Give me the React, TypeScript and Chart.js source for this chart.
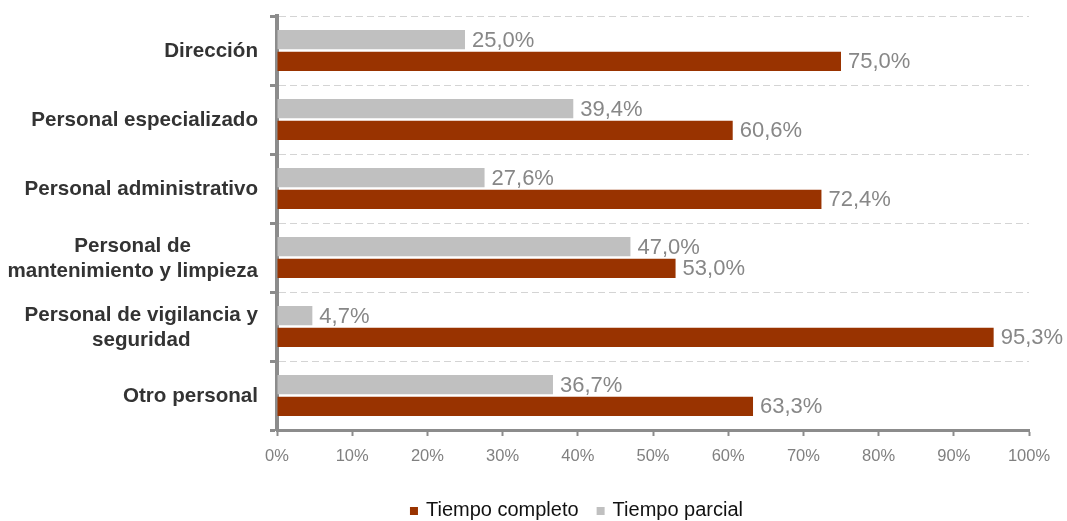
import React, { useEffect, useRef } from 'react';
import { Chart, registerables } from 'chart.js';

Chart.register(...registerables);

const FONT = "'Liberation Sans', Arial, Helvetica, sans-serif";

const categories: string[][] = [
  ['Dirección'],
  ['Personal especializado'],
  ['Personal administrativo'],
  ['Personal de', 'mantenimiento y limpieza'],
  ['Personal de vigilancia y', 'seguridad'],
  ['Otro personal'],
];
const tiempoParcial = [25.0, 39.4, 27.6, 47.0, 4.7, 36.7];
const tiempoCompleto = [75.0, 60.6, 72.4, 53.0, 95.3, 63.3];
const seriesNames = { completo: 'Tiempo completo', parcial: 'Tiempo parcial' };
const legendOrder = [1, 0]; // dataset indices: completo first, then parcial

const COLOR_COMPLETO = '#993300';
const COLOR_PARCIAL = '#c0c0c0';
const AXIS_GRAY = '#8c8c8c';

const fmt = (v: number) => v.toFixed(1).replace('.', ',') + '%';

const yLabelsPlugin = {
  id: 'yLabels',
  afterDraw(chart: any) {
    const ctx = chart.ctx;
    const yScale = chart.scales.y;
    const right = chart.chartArea.left - 19;
    const lineH = 25;
    ctx.save();
    ctx.font = `bold 20.6px ${FONT}`;
    ctx.fillStyle = '#333333';
    ctx.textAlign = 'center';
    ctx.textBaseline = 'middle';
    categories.forEach((lines, i) => {
      const cy = yScale.getPixelForValue(i) + 1;
      const w = Math.max(...lines.map((l) => ctx.measureText(l).width));
      const cx = right - w / 2;
      lines.forEach((l, j) => {
        ctx.fillText(l, cx, cy + (j - (lines.length - 1) / 2) * lineH);
      });
    });
    ctx.restore();
  },
};

const dataLabelsPlugin = {
  id: 'dataLabels',
  afterDatasetsDraw(chart: any) {
    const ctx = chart.ctx;
    ctx.save();
    ctx.font = `22px ${FONT}`;
    ctx.fillStyle = '#878787';
    ctx.textAlign = 'left';
    ctx.textBaseline = 'middle';
    chart.data.datasets.forEach((ds: any, di: number) => {
      const meta = chart.getDatasetMeta(di);
      meta.data.forEach((bar: any, i: number) => {
        ctx.fillText(fmt(ds.data[i]), bar.x + 7, bar.y + 1);
      });
    });
    ctx.restore();
  },
};

const legendPlugin = {
  id: 'customLegend',
  afterDraw(chart: any) {
    const ctx = chart.ctx;
    ctx.save();
    ctx.font = `20px ${FONT}`;
    ctx.textBaseline = 'middle';
    ctx.textAlign = 'left';
    const box = 8;
    const gapBox = 8;
    const gapItem = 18;
    const items = legendOrder.map((di) => chart.data.datasets[di]);
    const widths = items.map((ds: any) => box + gapBox + ctx.measureText(ds.label).width);
    const total = widths.reduce((a: number, b: number) => a + b, 0) + gapItem * (items.length - 1);
    let x = 576.5 - total / 2;
    const cy = 510;
    items.forEach((ds: any, k: number) => {
      ctx.fillStyle = ds.backgroundColor;
      ctx.fillRect(x, cy - box / 2 + 1, box, box);
      ctx.fillStyle = '#111111';
      ctx.fillText(ds.label, x + box + gapBox, cy);
      x += widths[k] + gapItem;
    });
    ctx.restore();
  },
};

export default function App() {
  const canvasRef = useRef<HTMLCanvasElement | null>(null);

  useEffect(() => {
    if (!canvasRef.current) return;
    Chart.defaults.font.family = FONT;
    const chart = new Chart(canvasRef.current, {
      type: 'bar',
      data: {
        labels: categories,
        datasets: [
          {
            label: seriesNames.parcial,
            data: tiempoParcial,
            backgroundColor: COLOR_PARCIAL,
            categoryPercentage: 0.63,
            barPercentage: 0.88,
          },
          {
            label: seriesNames.completo,
            data: tiempoCompleto,
            backgroundColor: COLOR_COMPLETO,
            categoryPercentage: 0.63,
            barPercentage: 0.88,
          },
        ],
      },
      options: {
        indexAxis: 'y',
        animation: false,
        responsive: true,
        maintainAspectRatio: false,
        layout: { padding: { left: 0, right: 38, top: 16, bottom: 51 } },
        plugins: {
          legend: { display: false },
          tooltip: { enabled: false },
        },
        scales: {
          x: {
            min: 0,
            max: 100,
            ticks: {
              stepSize: 10,
              callback: (v: any) => `${v}%`,
              color: '#808080',
              font: { size: 16.5, family: FONT },
              padding: 11,
            },
            grid: {
              display: true,
              drawOnChartArea: false,
              drawTicks: true,
              tickLength: 6,
              tickColor: AXIS_GRAY,
              tickWidth: 2,
            },
            border: { display: true, color: AXIS_GRAY, width: 3 },
            afterFit: (scale: any) => {
              scale.height = 40;
            },
          },
          y: {
            ticks: { display: false },
            grid: {
              display: true,
              offset: true,
              drawOnChartArea: true,
              color: '#d4d4d4',
              lineWidth: 1,
              drawTicks: true,
              tickLength: 7,
              tickColor: AXIS_GRAY,
              tickWidth: 3,
              tickBorderDash: [],
            },
            border: { display: true, color: AXIS_GRAY, width: 4, dash: [7, 4] },
            afterFit: (scale: any) => {
              scale.width = 277;
            },
          },
        },
      },
      plugins: [yLabelsPlugin, dataLabelsPlugin, legendPlugin],
    } as any);
    return () => chart.destroy();
  }, []);

  return (
    <div style={{ position: 'fixed', left: 0, top: 0, width: 1067, height: 521, background: '#ffffff' }}>
      <canvas ref={canvasRef} />
    </div>
  );
}
